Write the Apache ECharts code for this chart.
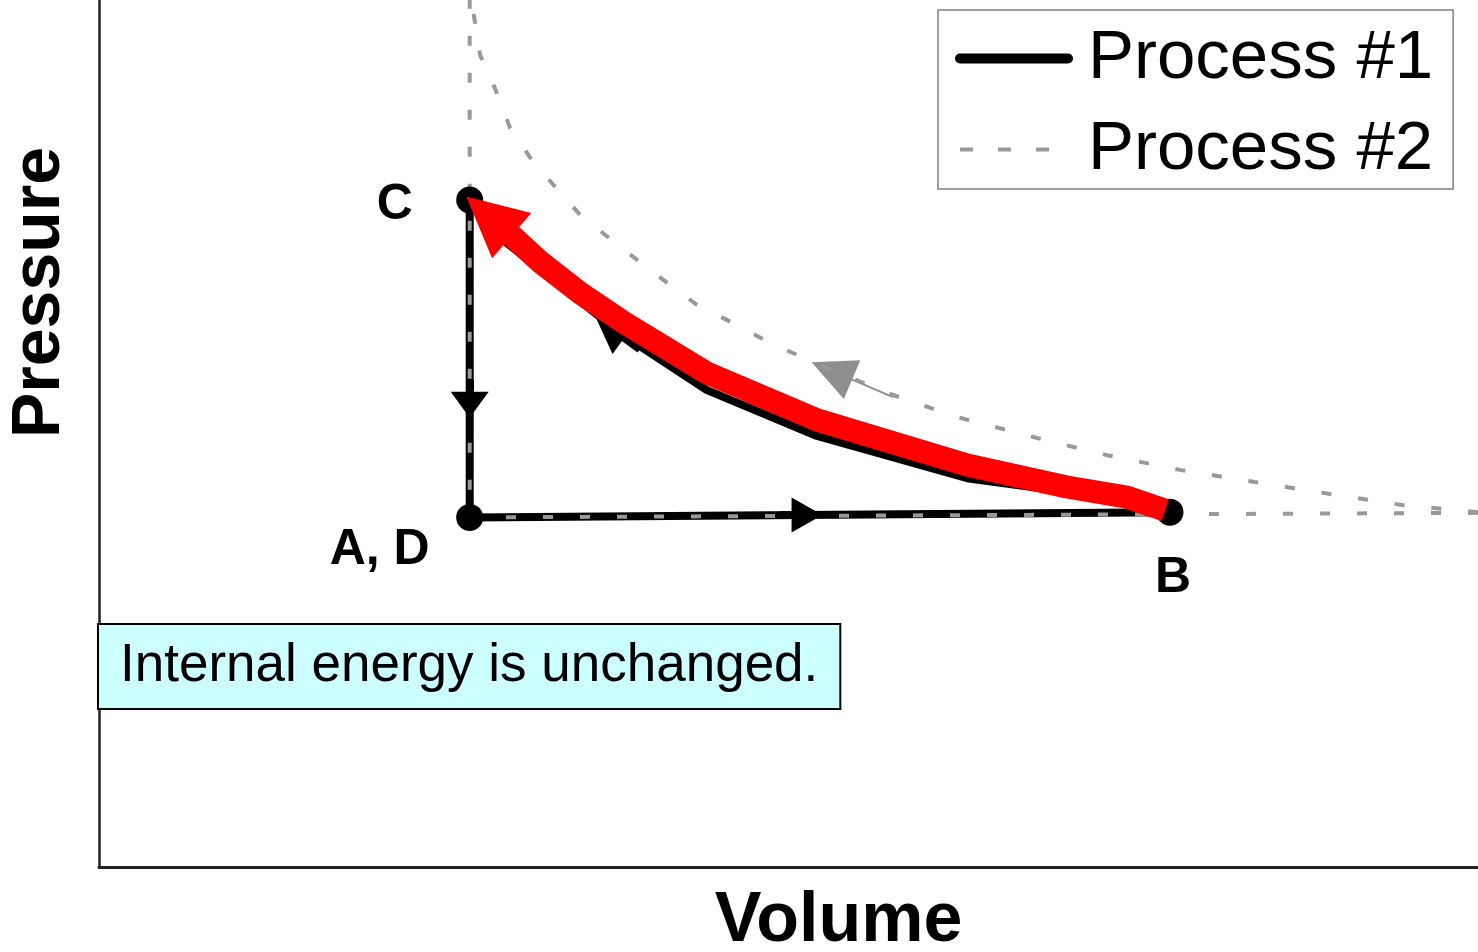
<!DOCTYPE html>
<html>
<head>
<meta charset="utf-8">
<style>
  html, body { margin: 0; padding: 0; background: #fff; }
  #chart { width: 1478px; height: 952px; }
</style>
<script src="https://cdn.jsdelivr.net/npm/echarts@6/dist/echarts.min.js"></script>
</head>
<body>
<div id="chart"></div>
<script>
// ---- data (Volume / Pressure in arbitrary units) ----
const axisTitles = ['Volume', 'Pressure'];
const legendNames = ['Process #1', 'Process #2'];
const annotationText = 'Internal energy is unchanged.';

const pointNames = ['A, D', 'B', 'C'];
const pointVolume = [1.0, 2.889, 1.0];
const pointPressure = [1.0, 1.015, 1.908];

// Process #1: C -> A (isochoric), A -> B (isobaric), B -> C (curve)
const process1Volume = [1.0, 1.0, 2.889, 2.773, 2.611, 2.342, 1.937, 1.640, 1.414, 1.244, 1.082, 1.0];
const process1Pressure = [1.908, 1.0, 1.015, 1.047, 1.073, 1.112, 1.233, 1.364, 1.521, 1.664, 1.800, 1.908];

// Process #2 (dashed): right edge -> A, A -> top, top -> curve -> right edge
const process2Volume = [3.72, 1.0, 1.0, 1.009, 1.028, 1.068, 1.109, 1.171, 1.298, 1.400, 1.505, 1.613, 1.710, 1.810, 1.926, 2.126, 2.315, 2.520, 2.719, 2.916, 3.118, 3.321, 3.518, 3.72];
const process2Pressure = [1.013, 1.0, 2.50, 2.451, 2.323, 2.228, 2.114, 2.017, 1.865, 1.779, 1.693, 1.608, 1.556, 1.499, 1.445, 1.356, 1.287, 1.230, 1.178, 1.136, 1.101, 1.067, 1.035, 1.015];

// red highlight path B -> C
const highlightVolume = [2.876, 2.773, 2.611, 2.342, 1.937, 1.640, 1.414, 1.298, 1.190, 1.111];
const highlightPressure = [1.021, 1.058, 1.087, 1.150, 1.279, 1.413, 1.559, 1.642, 1.731, 1.808];

// direction arrows: [volume, pressure] from -> to
const arrowFrom = [[1.0, 1.393], [1.837, 1.007], [1.459, 1.481], [2.142, 1.344], [1.111, 1.808]];
const arrowTo   = [[1.0, 1.322], [1.910, 1.007], [1.378, 1.544], [1.977, 1.419], [1.052, 1.862]];

const volumeMax = 3.72;
const pressureMax = 2.48;

// ---- chart ----
const FONT = 'Liberation Sans, Arial, Helvetica, sans-serif';
const zip = (a, b) => a.map((v, i) => [v, b[i]]);

const arrowStyles = [
  { color: '#000', width: 8, size: [38, 26], z: 5 },
  { color: '#000', width: 8, size: [35, 31], z: 5 },
  { color: '#000', width: 8, size: [40, 36], z: 5 },
  { color: '#8f8f8f', width: 2, size: [42, 44], z: 3 },
  { color: '#ff0000', width: 23, size: [60, 60], z: 7 }
];

const pointLabelOffsets = [[-90, 33], [3, 66], [-75, 5]];

const arrowSeries = arrowFrom.map((f, i) => ({
  type: 'lines',
  name: 'arrow' + i,
  coordinateSystem: 'cartesian2d',
  silent: true,
  z: arrowStyles[i].z,
  symbol: ['none', 'triangle'],
  symbolSize: [1, arrowStyles[i].size],
  lineStyle: { color: arrowStyles[i].color, width: arrowStyles[i].width, opacity: 1, curveness: 0 },
  data: [{ coords: [f, arrowTo[i]] }]
}));

const chart = echarts.init(document.getElementById('chart'));
chart.setOption({
  animation: false,
  backgroundColor: '#ffffff',
  grid: { left: 99, right: 0, top: 0, bottom: 85, containLabel: false, outerBoundsMode: 'none' },
  xAxis: {
    type: 'value', min: 0, max: volumeMax,
    name: axisTitles[0], nameLocation: 'middle', nameGap: 20,
    nameTextStyle: { fontFamily: FONT, fontSize: 70, fontWeight: 'bold', color: '#000', lineHeight: 70, padding: [0, 0, 0, 100] },
    axisLine: { show: true, onZero: false, lineStyle: { color: '#222', width: 3 } },
    axisTick: { show: false }, axisLabel: { show: false }, splitLine: { show: false }
  },
  yAxis: {
    type: 'value', min: 0, max: pressureMax,
    name: axisTitles[1], nameLocation: 'middle', nameGap: 25,
    nameTextStyle: { fontFamily: FONT, fontSize: 68, fontWeight: 'bold', color: '#000', lineHeight: 68, padding: [0, 0, 0, 282] },
    axisLine: { show: true, onZero: false, lineStyle: { color: '#222', width: 2.5 } },
    axisTick: { show: false }, axisLabel: { show: false }, splitLine: { show: false }
  },
  legend: {
    orient: 'vertical', left: 938, top: 10,
    padding: [14, 20, 5, 17],
    itemGap: 22, itemWidth: 108, itemHeight: 20,
    borderColor: '#808080', borderWidth: 1.5, backgroundColor: '#fff',
    selectedMode: false,
    itemStyle: { opacity: 0 },
    textStyle: { fontFamily: FONT, fontSize: 69, color: '#000', lineHeight: 68, padding: [0, 0, 0, 15] },
    data: [
      { name: legendNames[0], lineStyle: { color: '#000', width: 10, cap: 'round', type: 'solid' } },
      { name: legendNames[1], lineStyle: { color: '#999', width: 4, type: [13, 25] } }
    ]
  },
  graphic: [{
    type: 'text', left: 97, top: 623, z: 100,
    style: {
      text: annotationText, fontFamily: FONT, fontSize: 53, fill: '#000',
      backgroundColor: '#ccffff', borderColor: '#000', borderWidth: 2,
      padding: [15, 21, 15, 21], lineHeight: 53
    }
  }],
  series: [
    {
      type: 'line', name: legendNames[0], z: 2, symbol: 'none', silent: true,
      lineStyle: { color: '#000', width: 8, join: 'round' },
      itemStyle: { color: '#000' },
      data: zip(process1Volume, process1Pressure)
    },
    {
      type: 'line', name: legendNames[1], z: 3, symbol: 'none', silent: true,
      lineStyle: { color: '#999', width: 4, type: [10, 27] },
      itemStyle: { color: '#999' },
      data: zip(process2Volume, process2Pressure)
    },
    {
      type: 'scatter', name: 'points', z: 4, silent: true,
      symbol: 'circle', symbolSize: 27,
      itemStyle: { color: '#000', opacity: 1 },
      label: { show: true, position: 'inside', fontFamily: FONT, fontSize: 50, fontWeight: 'bold', color: '#000', opacity: 1 },
      data: pointNames.map((n, i) => ({
        name: n, value: [pointVolume[i], pointPressure[i]],
        label: { formatter: n, offset: pointLabelOffsets[i] }
      }))
    },
    {
      type: 'line', name: 'highlight', z: 7, symbol: 'none', silent: true,
      lineStyle: { color: '#ff0000', width: 23, join: 'round', cap: 'butt' },
      data: zip(highlightVolume, highlightPressure)
    }
  ].concat(arrowSeries)
});
</script>
</body>
</html>
